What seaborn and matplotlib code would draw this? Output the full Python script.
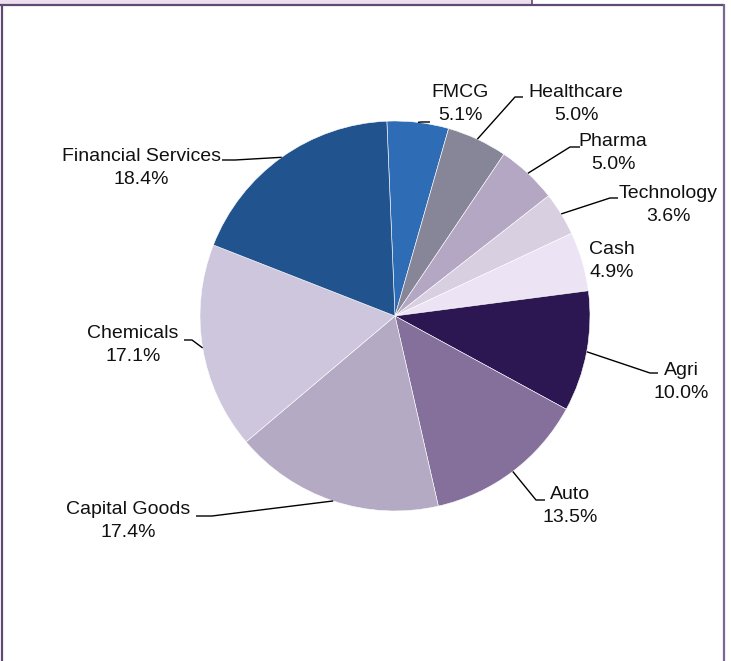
import matplotlib
matplotlib.use("Agg")
import matplotlib.pyplot as plt
from matplotlib.patches import Rectangle
import numpy as np
import seaborn as sns

sns.set_theme(style="white")
plt.rcParams['font.family'] = ['Liberation Sans', 'DejaVu Sans']

# Sector allocation (%), clockwise from the top
sectors = ["FMCG", "Healthcare", "Pharma", "Technology", "Cash", "Agri",
           "Auto", "Capital Goods", "Chemicals", "Financial Services"]
weights = [5.1, 5.0, 5.0, 3.6, 4.9, 10.0, 13.5, 17.4, 17.1, 18.4]
colors = ["#2E6DB6", "#878598", "#B3A7C4", "#D8CFE1", "#ECE4F5", "#2C1752",
          "#856F9B", "#B4AAC3", "#CEC6DD", "#21538F"]

W, H = 731, 661
fig = plt.figure(figsize=(W / 100, H / 100), dpi=100)
fig.patch.set_facecolor("white")

# pie geometry in pixels
cx, cy, r = 395, 316, 195
ax = fig.add_axes([(cx - r) / W, (H - cy - r) / H, 2 * r / W, 2 * r / H])
wedges, _ = ax.pie(weights, colors=colors, startangle=92.4, counterclock=False,
                   radius=1.0, wedgeprops=dict(edgecolor="white", linewidth=0.4))
ax.set_xlim(-1, 1)
ax.set_ylim(-1, 1)
ax.set_aspect("equal")
ax.axis("off")

# overlay in pixel coordinates for labels, leaders and the frame
ov = fig.add_axes([0, 0, 1, 1], zorder=5)
ov.set_xlim(0, W)
ov.set_ylim(H, 0)
ov.axis("off")
ov.patch.set_alpha(0)

label_pos = {
    "FMCG": (460, 104), "Healthcare": (576, 104), "Pharma": (613, 153),
    "Technology": (668, 205), "Cash": (612, 261), "Agri": (681, 382),
    "Auto": (570, 506), "Capital Goods": (128, 521), "Chemicals": (133, 345),
    "Financial Services": (141, 168),
}
leader_path = {
    "FMCG": [(421, 122), (430, 122)],
    "Healthcare": [(515, 97), (523, 97)],
    "Pharma": [(570, 147), (580, 147)],
    "Technology": [(610, 198), (618, 198)],
    "Agri": [(650, 373), (658, 373)],
    "Auto": [(536, 500), (545, 500)],
    "Capital Goods": [(212, 516), (196, 516)],
    "Chemicals": [(192, 340), (184, 340)],
    "Financial Services": [(235, 160), (222, 160)],
}

for name, val, w in zip(sectors, weights, wedges):
    tx, ty = label_pos[name]
    ov.text(tx, ty, f"{name}\n{val:.1f}%", ha="center", va="center",
            fontsize=14, color="#111111", linespacing=1.45)
    if name in leader_path:
        mid = np.deg2rad((w.theta1 + w.theta2) / 2)
        ex, ey = cx + r * np.cos(mid), cy - r * np.sin(mid)
        pts = [(ex, ey)] + leader_path[name]
        xs, ys = zip(*pts)
        ov.plot(xs, ys, color="black", lw=1.0, solid_capstyle="butt")

# frame and top header strip
ov.add_patch(Rectangle((0, -1), 532, 6, facecolor="#EEDFF0", edgecolor="none"))
ov.plot([532, 532], [0, 5], color="#5E4B74", lw=1.2)
ov.plot([0, 724], [5, 5], color="#5E4B74", lw=1.6)
ov.plot([2, 2], [5, H], color="#5E4B74", lw=1.6)
ov.plot([724, 724], [5, H], color="#7A6690", lw=1.6)

fig.savefig("out.png", dpi=100, facecolor="white")
